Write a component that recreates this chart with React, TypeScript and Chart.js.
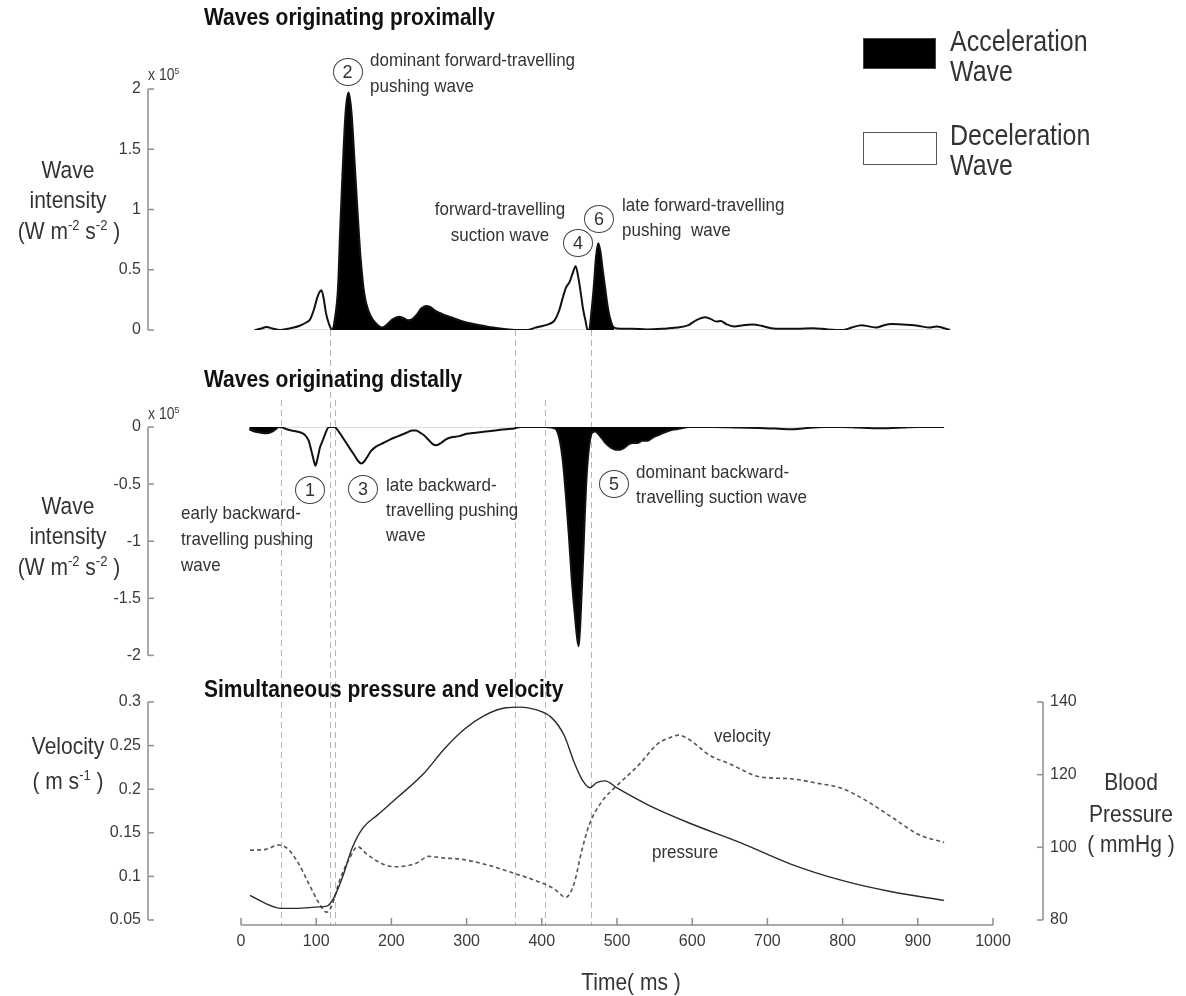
import React, { useEffect, useRef } from "react";
import { Chart, registerables } from "chart.js";

Chart.register(...registerables);

const FONT = '"Liberation Sans", Arial, Helvetica, sans-serif';

// ---------------- DATA ----------------
// Waves originating proximally (wave intensity, x 10^5 W m-2 s-2)
const proximalTime = [
  18, 26, 34, 42, 52, 62, 70, 78, 86, 92, 97, 101, 104, 107, 110, 113, 117, 121, 125, 129,
  132, 135, 139, 143, 147, 151, 155, 159, 164, 170, 176, 182, 188, 195, 202, 210, 216, 222, 228, 234,
  240, 246, 252, 258, 265, 272, 282, 295, 309, 322, 335, 350, 365, 380, 392, 402, 410, 417, 423, 428,
  432, 437, 441, 445, 449, 452, 455, 458, 461, 463, 466, 469, 472, 475, 478, 481, 484, 488, 492, 496,
  505, 520, 540, 560, 580, 595, 605, 617, 625, 632, 638, 645, 656, 668, 680, 692, 705, 720, 740, 760,
  780, 800, 812, 825, 835, 845, 855, 865, 880, 895, 905, 915, 925, 935, 943,
];
const proximalIntensity = [
  0, 0.01, 0.025, 0.012, 0, 0.01, 0.02, 0.035, 0.06, 0.09, 0.17, 0.26, 0.31, 0.33, 0.26, 0.14, 0.05, 0, 0.1, 0.35,
  0.85, 1.3, 1.8, 1.97, 1.8, 1.4, 0.98, 0.6, 0.3, 0.15, 0.08, 0.04, 0.02, 0.05, 0.09, 0.11, 0.1, 0.08, 0.09, 0.13,
  0.18, 0.2, 0.19, 0.16, 0.14, 0.12, 0.1, 0.07, 0.05, 0.035, 0.02, 0.008, 0, 0, 0.02, 0.035, 0.05, 0.08, 0.16, 0.27,
  0.35, 0.4, 0.47, 0.53, 0.42, 0.3, 0.17, 0.08, 0, 0, 0.15, 0.35, 0.6, 0.72, 0.65, 0.5, 0.36, 0.18, 0.07, 0.02,
  0.01, 0.01, 0.005, 0.01, 0.02, 0.04, 0.08, 0.105, 0.09, 0.07, 0.075, 0.05, 0.03, 0.04, 0.045, 0.035, 0.015, 0.01, 0.01, 0.015,
  0.005, 0, 0.02, 0.04, 0.03, 0.02, 0.04, 0.05, 0.045, 0.04, 0.03, 0.02, 0.03, 0.015, 0,
];
// time windows (ms) of acceleration waves (black)
const proximalAccelRanges = [[121, 365], [461, 496]];

// Waves originating distally
const distalTime = [
  11, 18, 26, 34, 40, 46, 50, 55, 61, 67, 74, 80, 85, 90, 94, 97, 99, 102, 105, 108,
  112, 117, 124, 130, 135, 140, 146, 151, 156, 160, 164, 168, 173, 180, 189, 198, 209, 220, 228, 233,
  238, 243, 249, 255, 260, 266, 272, 280, 290, 300, 312, 325, 338, 352, 365, 372, 390, 405, 413, 419,
  424, 428, 432, 436, 440, 444, 447, 449, 451, 453, 455, 457, 459, 461, 464, 467, 471, 475, 480, 486,
  492, 498, 504, 510, 516, 521, 527, 534, 541, 548, 555, 562, 570, 578, 586, 595, 630, 660, 697, 715,
  731, 750, 775, 799, 820, 840, 860, 880, 900, 935,
];
const distalIntensity = [
  -0.02, -0.04, -0.05, -0.055, -0.045, -0.02, 0, -0.005, -0.02, -0.03, -0.04, -0.05, -0.07, -0.12, -0.22, -0.3, -0.34, -0.27, -0.18, -0.13,
  -0.06, 0, 0, -0.04, -0.09, -0.14, -0.2, -0.25, -0.3, -0.32, -0.3, -0.26, -0.21, -0.17, -0.14, -0.11, -0.08, -0.05, -0.03, -0.03,
  -0.05, -0.07, -0.11, -0.15, -0.16, -0.14, -0.11, -0.09, -0.08, -0.06, -0.05, -0.04, -0.03, -0.02, -0.01, 0, 0, 0, -0.005, -0.02,
  -0.12, -0.3, -0.6, -0.95, -1.35, -1.65, -1.85, -1.92, -1.75, -1.45, -1.15, -0.8, -0.5, -0.3, -0.12, -0.05, -0.04, -0.06, -0.1, -0.15,
  -0.18, -0.2, -0.2, -0.18, -0.15, -0.14, -0.14, -0.12, -0.12, -0.09, -0.07, -0.05, -0.03, -0.02, -0.01, 0, 0, -0.005, -0.01, -0.015,
  -0.02, -0.01, 0, 0, -0.005, -0.01, -0.01, -0.005, 0, 0,
];
const distalAccelRanges = [[11, 50], [413, 595]];

// Simultaneous velocity (m/s) and pressure (mmHg)
const velocityTime = [
  12, 33, 50, 63, 77, 90, 104, 114, 121, 131, 145, 155, 168, 189, 205, 219, 233, 250, 270, 290,
  324, 358, 392, 416, 432, 443, 453, 463, 480, 501, 528, 554, 570, 582, 596, 623, 650, 691, 731, 765,
  799, 833, 867, 901, 935,
];
const velocity = [
  0.13, 0.131, 0.136, 0.131, 0.114, 0.092, 0.069, 0.059, 0.067, 0.095, 0.122, 0.134, 0.125, 0.114, 0.111, 0.112, 0.115, 0.123, 0.121, 0.12,
  0.114, 0.105, 0.095, 0.086, 0.076, 0.092, 0.129, 0.159, 0.186, 0.205, 0.227, 0.252, 0.259, 0.262, 0.257, 0.239, 0.229, 0.214, 0.212, 0.207,
  0.201, 0.186, 0.167, 0.148, 0.139,
];
const pressureTime = [
  12, 33, 53, 73, 104, 114, 124, 135, 148, 162, 182, 209, 243, 270, 297, 324, 352, 372, 392, 413,
  430, 443, 454, 464, 473, 484, 501, 541, 596, 664, 731, 799, 867, 935,
];
const pressure = [
  86.8, 84.5, 83.2, 83.2, 83.6, 83.8, 86.3, 91.8, 99.9, 105.3, 109.0, 113.9, 120.3, 127.0, 132.5, 136.3, 138.4, 138.6, 137.9, 135.7,
  130.7, 123.4, 118.5, 116.4, 117.8, 118.3, 116.2, 111.7, 106.7, 101.3, 95.4, 90.9, 87.7, 85.4,
];

// tick labels
const timeTicks = [0, 100, 200, 300, 400, 500, 600, 700, 800, 900, 1000];
const proximalTicks = [0, 0.5, 1, 1.5, 2];
const distalTicks = [-2, -1.5, -1, -0.5, 0];
const velocityTicks = [0.05, 0.1, 0.15, 0.2, 0.25, 0.3];
const pressureTicks = [80, 100, 120, 140];

// vertical dashed event markers (ms); "from" = panel where the marker starts
const eventMarkers = [
  { t: 53, from: "distal" },
  { t: 118.5, from: "proximal" },
  { t: 125, from: "distal" },
  { t: 364, from: "proximal" },
  { t: 404, from: "distal" },
  { t: 465, from: "proximal" },
];

// ---------------- LAYOUT ----------------
const W = 1186;
const AXIS_LEFT = 148;
const AXIS_RIGHT = 1043;
const T0_PX = 241;
const T1000_PX = 993;
const PX_PER_MS = (T1000_PX - T0_PX) / 1000;
const X_MIN = (AXIS_LEFT - T0_PX) / PX_PER_MS;
const X_MAX = (AXIS_RIGHT - T0_PX) / PX_PER_MS;
const AXIS_COLOR = "#8e8e8e";
const LABEL_COLOR = "#3a3a3a";
const TEXT_COLOR = "#333";
const SY = 1.12;

const xy = (t: number[], v: number[]) => t.map((x, i) => ({ x, y: v[i] }));
const inRanges = (t: number[], v: number[], ranges: number[][]) =>
  t.map((x, i) => ({ x, y: ranges.some(([a, b]) => x >= a && x <= b) ? v[i] : null }));

function yAxis(min: number, max: number, ticks: number[], position: string, width: number) {
  return {
    type: "linear",
    position,
    min,
    max,
    afterBuildTicks: (s: any) => {
      s.ticks = ticks.map((v) => ({ value: v }));
    },
    afterFit: (s: any) => {
      s.width = width;
    },
    grid: { display: false, drawTicks: false },
    border: { display: false },
    ticks: {
      padding: 7,
      color: LABEL_COLOR,
      font: { size: 16, family: FONT },
      callback: (v: any) => String(v),
    },
  };
}

function hiddenX() {
  return { type: "linear", min: X_MIN, max: X_MAX, display: false };
}

function decor(cfg: any) {
  return {
    id: "matlabAxes",
    beforeDatasetsDraw(chart: any) {
      const ctx = chart.ctx;
      const xs = chart.scales.x;
      const ca = chart.chartArea;
      ctx.save();
      ctx.strokeStyle = "#b5b5b5";
      ctx.lineWidth = 1;
      ctx.setLineDash([6, 4]);
      for (const m of eventMarkers) {
        const y0 = cfg.markerStart(m, ca);
        if (y0 == null) continue;
        const y1 = cfg.markerEnd(ca, chart);
        const x = Math.round(xs.getPixelForValue(m.t)) + 0.5;
        ctx.beginPath();
        ctx.moveTo(x, y0);
        ctx.lineTo(x, y1);
        ctx.stroke();
      }
      ctx.restore();
    },
    afterDraw(chart: any) {
      const ctx = chart.ctx;
      const ca = chart.chartArea;
      ctx.save();
      ctx.strokeStyle = AXIS_COLOR;
      ctx.lineWidth = 1.5;
      ctx.setLineDash([]);
      for (const ax of cfg.yAxes) {
        const s = chart.scales[ax.id];
        const x = ax.side === "left" ? ca.left : ca.right;
        const dir = ax.side === "left" ? 1 : -1;
        ctx.beginPath();
        ctx.moveTo(x, s.getPixelForValue(s.max));
        ctx.lineTo(x, s.getPixelForValue(s.min));
        ctx.stroke();
        for (const t of s.ticks) {
          const y = s.getPixelForValue(t.value);
          ctx.beginPath();
          ctx.moveTo(x, y);
          ctx.lineTo(x + dir * 6, y);
          ctx.stroke();
        }
      }
      if (cfg.xAxis) {
        const s = chart.scales.x;
        const y = ca.bottom + 5;
        const x0 = s.getPixelForValue(timeTicks[0]);
        const x1 = s.getPixelForValue(timeTicks[timeTicks.length - 1]);
        ctx.beginPath();
        ctx.moveTo(x0, y);
        ctx.lineTo(x1, y);
        ctx.stroke();
        for (const t of timeTicks) {
          const x = s.getPixelForValue(t);
          ctx.beginPath();
          ctx.moveTo(x, y);
          ctx.lineTo(x, y - 7);
          ctx.stroke();
        }
      }
      ctx.restore();
    },
  };
}

const common = {
  animation: false,
  responsive: false,
  maintainAspectRatio: false,
  devicePixelRatio: 1,
  events: [],
};

function proximalConfig(): any {
  return {
    type: "line",
    data: {
      datasets: [
        { data: xy(proximalTime, proximalIntensity), borderColor: "#111", borderWidth: 2, pointRadius: 0, fill: false, cubicInterpolationMode: "monotone" },
        { data: inRanges(proximalTime, proximalIntensity, proximalAccelRanges), borderWidth: 0, borderColor: "rgba(0,0,0,0)", backgroundColor: "#000", fill: "origin", pointRadius: 0, cubicInterpolationMode: "monotone" },
        { data: [{ x: proximalTime[0], y: 0 }, { x: proximalTime[proximalTime.length - 1], y: 0 }], borderColor: "#bdbdbd", borderWidth: 1, pointRadius: 0, fill: false },
      ],
    },
    options: {
      ...common,
      layout: { padding: { left: 0, right: W - AXIS_RIGHT, top: 89, bottom: 42 } },
      scales: { x: hiddenX(), y: yAxis(0, 2, proximalTicks, "left", AXIS_LEFT) },
      plugins: { legend: { display: false }, tooltip: { enabled: false } },
    },
    plugins: [
      decor({
        yAxes: [{ id: "y", side: "left" }],
        xAxis: false,
        markerStart: (m: any, ca: any) => (m.from === "proximal" ? ca.bottom : null),
        markerEnd: (_ca: any, chart: any) => chart.height,
      }),
    ],
  };
}

function distalConfig(): any {
  return {
    type: "line",
    data: {
      datasets: [
        { data: xy(distalTime, distalIntensity), borderColor: "#111", borderWidth: 2, pointRadius: 0, fill: false, cubicInterpolationMode: "monotone" },
        { data: inRanges(distalTime, distalIntensity, distalAccelRanges), borderWidth: 0, borderColor: "rgba(0,0,0,0)", backgroundColor: "#000", fill: "origin", pointRadius: 0, cubicInterpolationMode: "monotone" },
        { data: [{ x: distalTime[0], y: 0 }, { x: distalTime[distalTime.length - 1], y: 0 }], borderColor: "#bdbdbd", borderWidth: 1, pointRadius: 0, fill: false },
      ],
    },
    options: {
      ...common,
      layout: { padding: { left: 0, right: W - AXIS_RIGHT, top: 55, bottom: 6 } },
      scales: { x: hiddenX(), y: yAxis(-2, 0, distalTicks, "left", AXIS_LEFT) },
      plugins: { legend: { display: false }, tooltip: { enabled: false } },
    },
    plugins: [
      decor({
        yAxes: [{ id: "y", side: "left" }],
        xAxis: false,
        markerStart: (m: any) => (m.from === "proximal" ? 0 : 28),
        markerEnd: (_ca: any, chart: any) => chart.height,
      }),
    ],
  };
}

function flowConfig(): any {
  return {
    type: "line",
    data: {
      datasets: [
        { data: xy(pressureTime, pressure), yAxisID: "yP", borderColor: "#2a2a2a", borderWidth: 1.4, pointRadius: 0, fill: false, cubicInterpolationMode: "monotone" },
        { data: xy(velocityTime, velocity), yAxisID: "y", borderColor: "#555", borderWidth: 1.6, borderDash: [4, 3], pointRadius: 0, fill: false, cubicInterpolationMode: "monotone" },
      ],
    },
    options: {
      ...common,
      layout: { padding: { left: 0, right: 0, top: 30, bottom: 0 } },
      scales: {
        x: {
          type: "linear",
          position: "bottom",
          min: X_MIN,
          max: X_MAX,
          afterBuildTicks: (s: any) => {
            s.ticks = timeTicks.map((v) => ({ value: v }));
          },
          afterFit: (s: any) => {
            s.height = 76;
          },
          grid: { display: false, drawTicks: false },
          border: { display: false },
          ticks: {
            padding: 12,
            autoSkip: false,
            maxRotation: 0,
            minRotation: 0,
            color: LABEL_COLOR,
            font: { size: 16, family: FONT },
            callback: (v: any) => String(v),
          },
        },
        y: yAxis(0.05, 0.3, velocityTicks, "left", AXIS_LEFT),
        yP: yAxis(80, 140, pressureTicks, "right", W - AXIS_RIGHT),
      },
      plugins: { legend: { display: false }, tooltip: { enabled: false } },
    },
    plugins: [
      decor({
        yAxes: [
          { id: "y", side: "left" },
          { id: "yP", side: "right" },
        ],
        xAxis: true,
        markerStart: () => 0,
        markerEnd: (ca: any) => ca.bottom + 5,
      }),
    ],
  };
}

function ChartCanvas({ top, height, build }: any) {
  const ref = useRef<HTMLCanvasElement | null>(null);
  useEffect(() => {
    const chart = new Chart(ref.current as HTMLCanvasElement, build());
    return () => chart.destroy();
  }, []);
  return (
    <canvas
      ref={ref}
      width={W}
      height={height}
      style={{ position: "absolute", left: 0, top, width: W, height }}
    />
  );
}

function Txt({ x, y, size = 17, bold = false, align = "left", color = TEXT_COLOR, sy = SY, children }: any) {
  const base = 0.9465 * size;
  const style: any = {
    position: "absolute",
    top: y - base,
    fontSize: size,
    fontWeight: bold ? 700 : 400,
    lineHeight: 1.2,
    whiteSpace: "pre",
    color,
    fontFamily: FONT,
    transform: `scaleY(${sy})`,
    transformOrigin: `50% ${base}px`,
  };
  if (align === "center") {
    style.left = x - 250;
    style.width = 500;
    style.textAlign = "center";
  } else {
    style.left = x;
  }
  return <div style={style}>{children}</div>;
}

const Sup = ({ children }: any) => (
  <sup style={{ fontSize: "0.62em", lineHeight: 0, verticalAlign: "0.62em" }}>{children}</sup>
);

function Circ({ cx, cy, n }: any) {
  return (
    <div
      style={{
        position: "absolute",
        left: cx - 15,
        top: cy - 14,
        width: 30,
        height: 28,
        boxSizing: "border-box",
        border: "1.4px solid #444",
        borderRadius: "50%",
        display: "flex",
        alignItems: "center",
        justifyContent: "center",
        fontSize: 18,
        fontFamily: FONT,
        color: TEXT_COLOR,
        lineHeight: 1,
      }}
    >
      {n}
    </div>
  );
}

function WaveIntensityTitle({ y }: any) {
  return (
    <>
      <Txt x={68} y={y} size={21} align="center">Wave</Txt>
      <Txt x={68} y={y + 30} size={21} align="center">intensity</Txt>
      <Txt x={69} y={y + 61} size={21} align="center">
        (W m<Sup>-2</Sup> s<Sup>-2</Sup> )
      </Txt>
    </>
  );
}

export default function App() {
  return (
    <div style={{ position: "absolute", left: 0, top: 0, width: W, height: 996, background: "#fff", overflow: "hidden" }}>
      <ChartCanvas top={0} height={372} build={proximalConfig} />
      <ChartCanvas top={372} height={300} build={distalConfig} />
      <ChartCanvas top={672} height={324} build={flowConfig} />

      {/* panel titles */}
      <Txt x={204} y={25} size={21} bold color="#111">Waves originating proximally</Txt>
      <Txt x={204} y={387} size={21} bold color="#111">Waves originating distally</Txt>
      <Txt x={204} y={697} size={21} bold color="#111">Simultaneous pressure and velocity</Txt>

      {/* exponent labels */}
      <Txt x={148} y={80} size={14} color={LABEL_COLOR}>x 10<Sup>5</Sup></Txt>
      <Txt x={148} y={419} size={14} color={LABEL_COLOR}>x 10<Sup>5</Sup></Txt>

      {/* axis titles */}
      <WaveIntensityTitle y={178} />
      <WaveIntensityTitle y={514} />
      <Txt x={68} y={754} size={21} align="center">Velocity</Txt>
      <Txt x={68} y={789} size={21} align="center">( m s<Sup>-1</Sup> )</Txt>
      <Txt x={1131} y={790} size={21} align="center">Blood</Txt>
      <Txt x={1131} y={822} size={21} align="center">Pressure</Txt>
      <Txt x={1131} y={852} size={21} align="center">( mmHg )</Txt>
      <Txt x={631} y={990} size={21} align="center">Time( ms )</Txt>

      {/* legend */}
      <div style={{ position: "absolute", left: 863, top: 38, width: 73, height: 31, background: "#000", border: "1px solid #444", boxSizing: "border-box" }} />
      <div style={{ position: "absolute", left: 863, top: 132, width: 74, height: 33, background: "#fff", border: "1.5px solid #555", boxSizing: "border-box" }} />
      <Txt x={950} y={51} size={25} sy={1.15}>Acceleration</Txt>
      <Txt x={950} y={81} size={25} sy={1.15}>Wave</Txt>
      <Txt x={950} y={145} size={25} sy={1.15}>Deceleration</Txt>
      <Txt x={950} y={175} size={25} sy={1.15}>Wave</Txt>

      {/* proximal annotations */}
      <Circ cx={347.5} cy={72} n="2" />
      <Txt x={370} y={67}>dominant forward-travelling</Txt>
      <Txt x={370} y={93}>pushing wave</Txt>
      <Txt x={500} y={216} align="center">forward-travelling</Txt>
      <Txt x={500} y={242} align="center">suction wave</Txt>
      <Circ cx={578} cy={243} n="4" />
      <Circ cx={599} cy={219} n="6" />
      <Txt x={622} y={212}>late forward-travelling</Txt>
      <Txt x={622} y={237}>pushing  wave</Txt>

      {/* distal annotations */}
      <Circ cx={310} cy={490} n="1" />
      <Circ cx={363} cy={489} n="3" />
      <Circ cx={614} cy={484} n="5" />
      <Txt x={181} y={520}>early backward-</Txt>
      <Txt x={181} y={546}>travelling pushing</Txt>
      <Txt x={181} y={572}>wave</Txt>
      <Txt x={386} y={492}>late backward-</Txt>
      <Txt x={386} y={517}>travelling pushing</Txt>
      <Txt x={386} y={542}>wave</Txt>
      <Txt x={636} y={479}>dominant backward-</Txt>
      <Txt x={636} y={504}>travelling suction wave</Txt>

      {/* flow annotations */}
      <Txt x={714} y={743}>velocity</Txt>
      <Txt x={652} y={859}>pressure</Txt>
    </div>
  );
}
